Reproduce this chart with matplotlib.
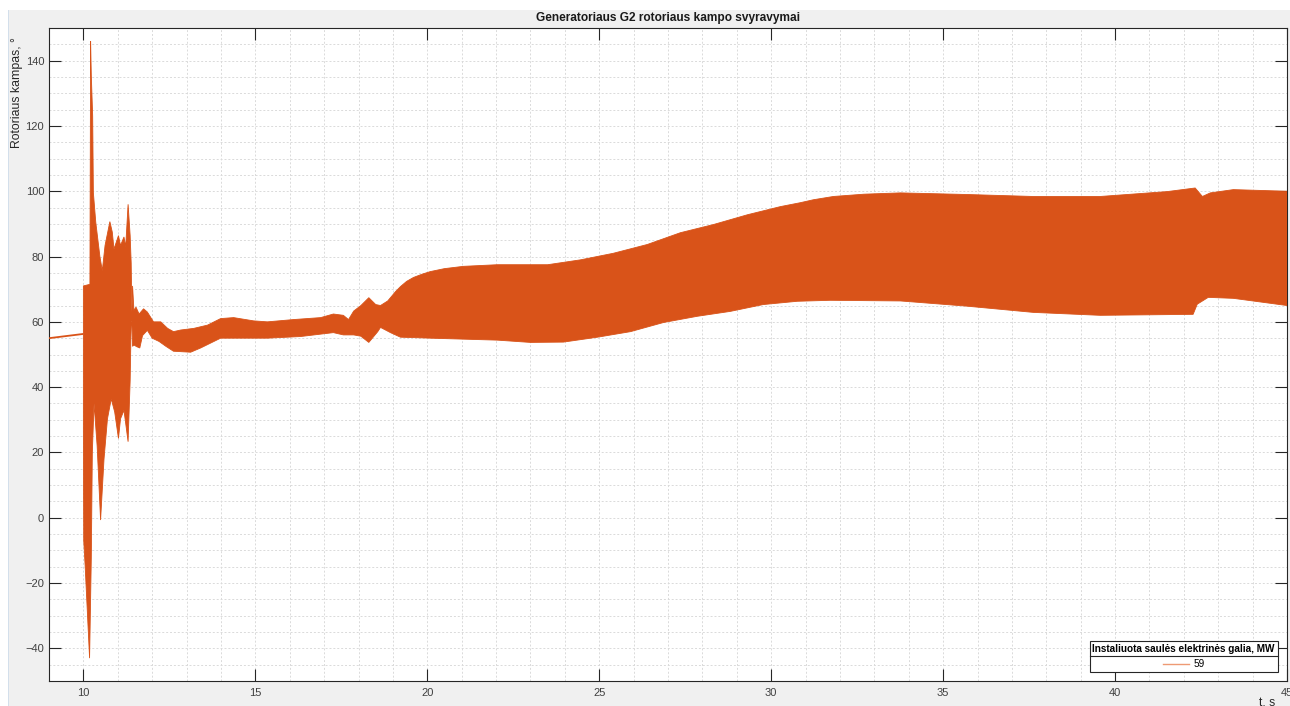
import numpy as np
import matplotlib
matplotlib.use("Agg")
import matplotlib.pyplot as plt
from matplotlib.lines import Line2D
from matplotlib.patches import Rectangle
from matplotlib.ticker import MultipleLocator

plt.rcParams['font.family'] = ['Liberation Sans', 'DejaVu Sans']

# ---- data -------------------------------------------------------------
# steady state before the disturbance
t_pre = [9.0, 10.0]
angle_pre = [55.0, 56.3]

# upper envelope of the rotor angle swings
t_upper = [10.0, 10.0, 10.19, 10.21, 10.23, 10.27, 10.29, 10.36, 10.48, 10.55,
           10.63, 10.77, 10.84, 10.89, 11.02, 11.08, 11.18, 11.23, 11.30, 11.36,
           11.39, 11.41, 11.43, 11.47, 11.53, 11.62, 11.75, 11.86, 12.04, 12.25,
           12.45, 12.62, 12.83, 13.21, 13.61, 13.99, 14.37, 14.95, 15.35, 16.11,
           16.90, 17.27, 17.56, 17.71, 17.86, 18.07, 18.30, 18.50, 18.64, 18.85,
           19.08, 19.22, 19.40, 19.60, 19.85, 20.09, 20.50, 21.05, 22.04, 23.50,
           24.46, 25.41, 26.40, 27.36, 28.32, 29.31, 30.27, 30.85, 31.23, 31.81,
           32.70, 33.76, 35.70, 37.62, 39.57, 41.52, 42.33, 42.54, 42.77, 43.44,
           45.0]
angle_upper = [56.3, 71.0, 71.5, 146.0, 135.5, 123.0, 99.6, 90.5, 80.0, 75.7,
               83.4, 90.7, 87.5, 82.3, 86.4, 83.4, 86.0, 83.0, 96.0, 86.4,
               78.0, 63.0, 71.0, 63.5, 64.5, 62.4, 64.0, 63.0, 60.0, 60.0,
               58.0, 57.0, 57.5, 58.0, 59.0, 61.0, 61.3, 60.3, 60.0, 60.7,
               61.3, 62.4, 62.0, 60.7, 63.3, 65.0, 67.4, 65.3, 65.0, 66.4,
               69.3, 70.8, 72.4, 73.6, 74.6, 75.4, 76.3, 77.0, 77.5, 77.5,
               79.0, 81.0, 83.7, 87.3, 89.8, 92.8, 95.3, 96.5, 97.4, 98.4,
               99.1, 99.5, 99.0, 98.4, 98.4, 99.9, 101.0, 98.4, 99.5, 100.5,
               100.0]

# lower envelope of the rotor angle swings
t_lower = [10.0, 10.0, 10.01, 10.05, 10.18, 10.23, 10.26, 10.31, 10.40, 10.50,
           10.60, 10.70, 10.81, 10.91, 11.02, 11.08, 11.18, 11.30, 11.36, 11.39,
           11.41, 11.43, 11.47, 11.55, 11.64, 11.72, 11.86, 12.00, 12.20, 12.40,
           12.62, 13.12, 13.41, 13.99, 14.95, 15.35, 16.31, 17.27, 17.56, 17.86,
           18.07, 18.30, 18.56, 18.64, 18.93, 19.22, 20.09, 22.04, 23.00, 23.96,
           24.95, 25.91, 26.87, 27.85, 28.81, 29.77, 30.76, 31.72, 33.76, 35.70,
           37.62, 39.57, 42.27, 42.39, 42.71, 43.44, 45.0]
angle_lower = [56.3, 27.3, -7.0, -14.5, -43.0, -12.4, 20.0, 35.0, 22.0, -0.7,
               18.0, 30.3, 36.4, 32.4, 24.3, 30.3, 32.9, 23.3, 42.0, 60.0,
               60.0, 52.5, 52.9, 52.4, 52.0, 55.8, 57.4, 55.0, 54.0, 52.5,
               51.0, 50.7, 52.0, 55.0, 55.0, 55.0, 55.5, 56.7, 56.0, 56.0,
               55.6, 53.7, 57.0, 58.3, 56.7, 55.3, 55.0, 54.4, 53.7, 53.8,
               55.3, 57.0, 59.8, 61.7, 63.2, 65.3, 66.3, 66.6, 66.4, 64.8,
               62.9, 62.0, 62.3, 65.4, 67.5, 67.2, 65.0]

series_label = '59'
legend_title = 'Instaliuota saulės elektrinės galia, MW'
title = 'Generatoriaus G2 rotoriaus kampo svyravymai'
ylabel = 'Rotoriaus kampas, °'
xlabel = 't, s'

# ---- figure -----------------------------------------------------------
W, H = 1290, 706
fig = plt.figure(figsize=(W / 100, H / 100), dpi=100, facecolor='white')

# window background
fig.add_artist(Rectangle((9 / W, 0), 1 - 9 / W, (H - 10) / H,
                         transform=fig.transFigure, facecolor='#f0f0f0',
                         edgecolor='none', zorder=-10))
fig.add_artist(Rectangle((8 / W, 0), 1.2 / W, (H - 10) / H,
                         transform=fig.transFigure, facecolor='#d3dfeb',
                         edgecolor='none', zorder=-9))

ax = fig.add_axes([49 / W, (H - 681) / H, (1287 - 49) / W, (681 - 28) / H])
ax.set_facecolor('white')

color = '#d95319'
ax.plot(t_pre, angle_pre, color=color, lw=1.3, solid_capstyle='butt', zorder=3)
poly_t = list(t_upper) + list(t_lower[::-1])
poly_y = list(angle_upper) + list(angle_lower[::-1])
ax.fill(poly_t, poly_y, facecolor=color, edgecolor=color, lw=0.6, zorder=3)

ax.set_xlim(9, 45)
ax.set_ylim(-50, 150)
ax.xaxis.set_major_locator(MultipleLocator(5))
ax.xaxis.set_minor_locator(MultipleLocator(1))
ax.yaxis.set_major_locator(MultipleLocator(20))
ax.yaxis.set_minor_locator(MultipleLocator(5))

ax.grid(True, which='both', color='#dadada', linestyle=(0, (2, 2)), lw=0.7)
ax.set_axisbelow(True)

ax.tick_params(which='major', direction='in', length=8.6, width=0.8,
               top=True, right=True, colors='#262626', labelsize=8,
               labelcolor='#404040')
ax.tick_params(axis='x', which='major', pad=5)
ax.tick_params(axis='y', which='major', pad=3.5)
ax.tick_params(which='minor', length=0)
for sp in ax.spines.values():
    sp.set_color('#262626')
    sp.set_linewidth(0.8)

fig.text(668 / W, 1 - 18 / H, title, ha='center', va='center',
         fontsize=8.6, fontweight='bold', color='#1a1a1a')
fig.text(17 / W, 1 - 37 / H, ylabel, rotation=90, ha='center', va='top',
         fontsize=8.8, color='#262626')
fig.text(1267 / W, 1 - 698 / H, xlabel, ha='center', va='top',
         fontsize=8.8, color='#262626')

handle = Line2D([], [], color='#ee9a74', lw=1.0)
leg = ax.legend([handle], [series_label], title=legend_title,
                loc='lower right', bbox_to_anchor=(1278 / W, 34 / H),
                bbox_transform=fig.transFigure, frameon=True, fancybox=False,
                framealpha=1, edgecolor='#262626', fontsize=7.2,
                title_fontproperties={'weight': 'bold', 'size': 7.2},
                borderpad=0.3, handlelength=2.6, handletextpad=0.4,
                borderaxespad=0, alignment='center')
leg.get_frame().set_linewidth(0.8)
leg.set_zorder(5)

# separator between legend title and its entry
fig.canvas.draw()
r = fig.canvas.get_renderer()
lb = leg.get_window_extent(r)
tb = leg.get_title().get_window_extent(r)
ysep = tb.y0 - 1.5
inv = fig.transFigure.inverted()
(x0, y0), (x1, _) = inv.transform([(lb.x0, ysep), (lb.x1, ysep)])
fig.add_artist(Line2D([x0, x1], [y0, y0], transform=fig.transFigure,
                      color='#262626', lw=0.8, zorder=6))

fig.savefig('out.png', dpi=100, facecolor=fig.get_facecolor())
